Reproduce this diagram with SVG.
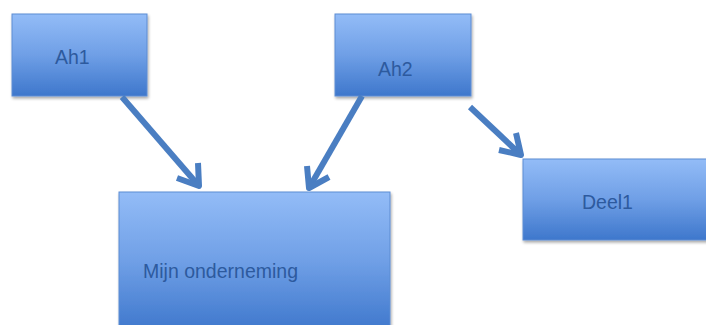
<svg xmlns="http://www.w3.org/2000/svg" width="706" height="325" viewBox="0 0 706 325">
<defs>
<linearGradient id="g" x1="0" y1="0" x2="0" y2="1">
<stop offset="0" stop-color="#93bcf7"/>
<stop offset="0.5" stop-color="#6f9fe6"/>
<stop offset="1" stop-color="#3e77cc"/>
</linearGradient>
<filter id="sh" x="-10%" y="-10%" width="125%" height="130%">
<feGaussianBlur in="SourceAlpha" stdDeviation="1.5"/>
<feOffset dx="1" dy="2" result="b"/>
<feComponentTransfer><feFuncA type="linear" slope="0.35"/></feComponentTransfer>
<feMerge><feMergeNode/><feMergeNode in="SourceGraphic"/></feMerge>
</filter>
</defs>
<style>
.box{fill:url(#g);stroke:#5d8dd3;stroke-width:1;filter:url(#sh)}
.lbl{font-family:"Liberation Sans",Arial,sans-serif;font-size:19.5px;fill:#2d5a9e}
.ln{stroke:#4a7ec2;stroke-width:6;fill:none;stroke-linecap:butt;stroke-linejoin:round}
</style>
<rect width="706" height="325" fill="#ffffff"/>
<g id="ah1"><rect class="box" x="12" y="14" width="135" height="82"/><text class="lbl" x="55" y="64">Ah1</text></g>
<g id="ah2"><rect class="box" x="335" y="14" width="136" height="82"/><text class="lbl" x="378" y="76">Ah2</text></g>
<g id="mijn"><rect class="box" x="119" y="192" width="271" height="140"/><text class="lbl" x="143" y="278">Mijn onderneming</text></g>
<g id="deel1"><rect class="box" x="523" y="159" width="186" height="81"/><text class="lbl" x="582" y="209">Deel1</text></g>
<g id="connectors">
<path class="ln" d="M122 97 L199 186"/>
<path class="ln" d="M177 178 L199 186 L198 163"/>
<path class="ln" d="M362 96 L309 188"/>
<path class="ln" d="M307 166 L309 188 L329 177"/>
<path class="ln" d="M470 107 L521 155"/>
<path class="ln" d="M499 150 L521 155 L516 133"/>
</g>
</svg>
